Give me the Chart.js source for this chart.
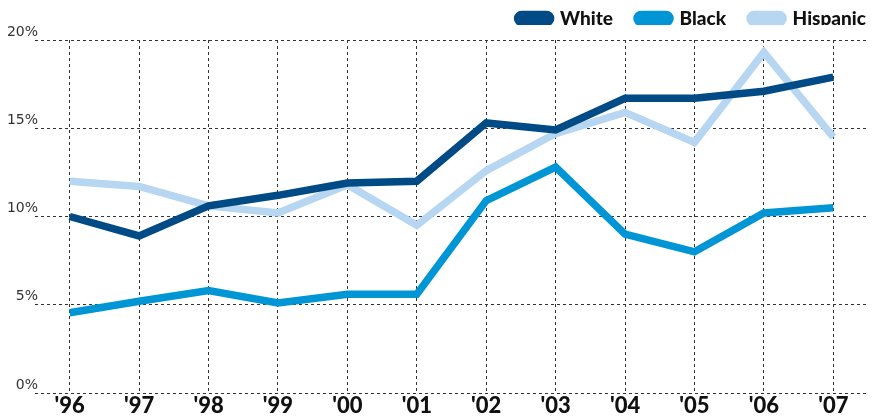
<!DOCTYPE html>
<html>
<head>
<meta charset="utf-8">
<script src="https://cdn.jsdelivr.net/npm/chart.js@4"></script>
<style>
  html, body { margin: 0; padding: 0; background: #fff; }
  #wrap { width: 882px; height: 419px; }
</style>
</head>
<body>
<div id="wrap"><canvas id="myChart"></canvas></div>
<script>
// data (percent)
const years = ["'96", "'97", "'98", "'99", "'00", "'01", "'02", "'03", "'04", "'05", "'06", "'07"];
const white = [10.0, 8.9, 10.6, 11.2, 11.9, 12.0, 15.3, 14.9, 16.7, 16.7, 17.1, 17.9];
const black = [4.55, 5.2, 5.8, 5.1, 5.6, 5.6, 10.9, 12.8, 9.0, 8.0, 10.2, 10.5];
const hispanic = [12.0, 11.7, 10.6, 10.2, 11.8, 9.5, 12.6, 14.7, 15.9, 14.2, 19.3, 14.5];
const yTicks = [0, 5, 10, 15, 20];

// y labels sit above the grid line, left of the plot
const yLabels = {
  id: 'yLabels',
  afterDraw(chart) {
    const ctx = chart.ctx;
    const y = chart.scales.y;
    ctx.save();
    ctx.font = '14px "DejaVu Sans", sans-serif';
    ctx.fillStyle = '#333';
    ctx.textAlign = 'right';
    ctx.textBaseline = 'bottom';
    yTicks.forEach(t => {
      ctx.fillText(t + '%', chart.chartArea.left + 3, y.getPixelForValue(t) - 1);
    });
    ctx.restore();
  }
};

// keep the legend band short and push it to the top right corner
const legendFix = {
  id: 'legendFix',
  beforeInit(chart) {
    const fit = chart.legend.fit;
    chart.legend.fit = function () {
      fit.call(this);
      this.height = 40;
    };
  },
  afterLayout(chart) {
    const lg = chart.legend;
    lg.top -= 15;
    lg.bottom -= 15;
    lg.left += 22;
    lg.right += 22;
  }
};

let canva = document.getElementById('myChart').getContext('2d');
new Chart(canva, {
  type: 'line',
  data: {
    labels: years,
    datasets: [
      { label: 'White', data: white, borderColor: '#004a85', backgroundColor: '#004a85' },
      { label: 'Black', data: black, borderColor: '#0096d6', backgroundColor: '#0096d6' },
      { label: 'Hispanic', data: hispanic, borderColor: '#b6d6f1', backgroundColor: '#b6d6f1' }
    ].map(d => Object.assign(d, {
      fill: false,
      tension: 0,
      borderWidth: 7.5,
      pointRadius: 0,
      borderJoinStyle: 'miter'
    }))
  },
  options: {
    responsive: true,
    maintainAspectRatio: false,
    animation: false,
    layout: { padding: { left: 35, right: 14, top: 0, bottom: 0 } },
    plugins: {
      legend: {
        align: 'end',
        labels: {
          boxWidth: 33,
          boxHeight: 8,
          useBorderRadius: true,
          borderRadius: 4,
          padding: 24,
          color: '#111',
          font: { family: 'Lato, "DejaVu Sans", sans-serif', size: 19, weight: '900' }
        }
      },
      tooltip: { enabled: false }
    },
    scales: {
      x: {
        offset: true,
        grid: { color: '#333', lineWidth: 1, tickLength: 0, offset: false },
        border: { display: false, dash: [3, 3] },
        ticks: {
          color: '#111',
          padding: 2,
          maxRotation: 0,
          font: { family: 'Lato, "DejaVu Sans", sans-serif', size: 22, weight: '900', lineHeight: 1 }
        }
      },
      y: {
        min: 0,
        max: 20,
        afterBuildTicks: s => { s.ticks = yTicks.map(v => ({ value: v })); },
        grid: { color: '#333', lineWidth: 1, tickLength: 0 },
        border: { display: false, dash: [3, 3] },
        ticks: { display: false }
      }
    }
  },
  plugins: [yLabels, legendFix]
});
</script>
</body>
</html>
